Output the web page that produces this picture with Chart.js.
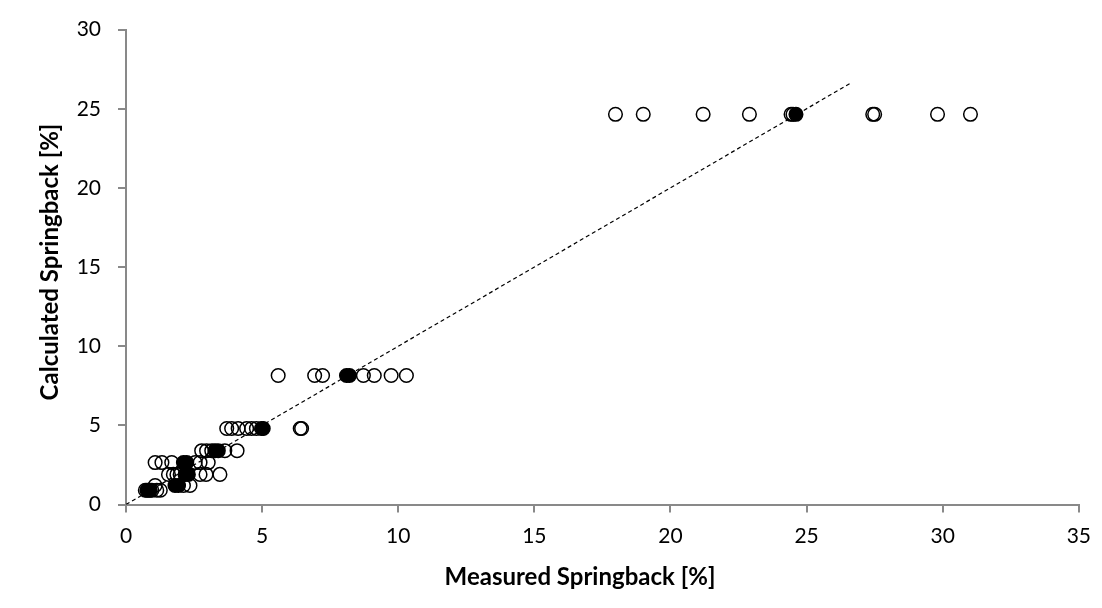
<!DOCTYPE html>
<html>
<head>
<meta charset="utf-8">
<script src="https://cdn.jsdelivr.net/npm/chart.js@4.4.1/dist/chart.umd.min.js"></script>
<style>
  html, body { margin: 0; padding: 0; background: #fff; }
  #wrap { width: 1102px; height: 608px; }
</style>
</head>
<body>
<div id="wrap"><canvas id="myChart" width="1102" height="608"></canvas></div>
<script>
// open circles (measured, calculated)
var openX = [17.98, 19.0, 21.2, 22.9, 24.43, 24.5, 27.43, 27.5, 29.81, 31.02,
  5.59, 6.93, 7.22, 8.72, 9.12, 9.74, 10.3,
  3.7, 3.88, 4.12, 4.43, 4.61, 4.79, 6.4, 6.45,
  2.78, 2.96, 3.15, 3.63, 4.08,
  1.07, 1.32, 1.68, 2.54, 2.72, 3.02,
  1.56, 1.74, 1.87, 1.99, 2.72, 2.94, 3.45,
  1.07, 2.11, 2.35,
  0.71, 0.83, 0.95, 1.13, 1.26];
var openY = [24.65, 24.65, 24.65, 24.65, 24.65, 24.65, 24.65, 24.65, 24.65, 24.65,
  8.15, 8.15, 8.15, 8.15, 8.15, 8.15, 8.15,
  4.8, 4.8, 4.8, 4.8, 4.8, 4.8, 4.8, 4.8,
  3.4, 3.4, 3.4, 3.4, 3.4,
  2.65, 2.65, 2.65, 2.65, 2.65, 2.65,
  1.9, 1.9, 1.9, 1.9, 1.9, 1.9, 1.9,
  1.2, 1.2, 1.2,
  0.9, 0.9, 0.9, 0.9, 0.9];

// filled circles
var filledX = [24.61, 8.1, 8.21, 4.98, 5.04, 3.27, 3.39, 2.11, 2.23, 2.17, 2.29, 1.8, 1.93, 0.77, 0.89];
var filledY = [24.65, 8.15, 8.15, 4.8, 4.8, 3.4, 3.4, 2.65, 2.65, 1.9, 1.9, 1.2, 1.2, 0.9, 0.9];

// dashed y = x line
var lineX = [0, 26.6];
var lineY = [0, 26.6];

var xTicks = [0, 5, 10, 15, 20, 25, 30, 35];
var yTicks = [0, 5, 10, 15, 20, 25, 30];

var xTitle = "Measured Springback [%]";
var yTitle = "Calculated Springback [%]";

function pts(xs, ys) {
  return xs.map(function (x, i) { return { x: x, y: ys[i] }; });
}

var axisColor = "#898989";
var fontFam = "Lato, 'Open Sans', sans-serif";

// axis titles drawn at the spots they sit in the original
var titlesPlugin = {
  id: "titles",
  afterDraw: function (chart) {
    var c = chart.ctx;
    c.save();
    c.fillStyle = "#000";
    c.font = "bold 24px " + fontFam;
    c.textAlign = "center";
    c.textBaseline = "middle";
    c.fillText(xTitle, 580, 577);
    c.translate(50, 262);
    c.rotate(-Math.PI / 2);
    c.fillText(yTitle, 0, 0);
    c.restore();
  }
};

const ctx = document.getElementById("myChart").getContext("2d");
const myChart = new Chart(ctx, {
  type: "scatter",
  data: {
    datasets: [
      {
        data: pts(openX, openY),
        pointStyle: "circle",
        pointRadius: 6.8,
        pointBorderWidth: 1.5,
        pointBorderColor: "#000",
        pointBackgroundColor: "rgba(0,0,0,0)",
        order: 2,
      },
      {
        data: pts(filledX, filledY),
        pointStyle: "circle",
        pointRadius: 6.8,
        pointBorderWidth: 1.5,
        pointBorderColor: "#000",
        pointBackgroundColor: "#000",
        order: 1,
      },
      {
        type: "line",
        data: pts(lineX, lineY),
        borderColor: "#000",
        borderWidth: 1.2,
        borderDash: [4, 3],
        pointRadius: 0,
        fill: false,
        order: 0,
      },
    ],
  },
  options: {
    responsive: false,
    animation: false,
    events: [],
    layout: {
      padding: { top: 22, right: 20, bottom: 0, left: 0 },
    },
    scales: {
      x: {
        type: "linear",
        min: 0,
        max: 35,
        afterFit: function (scale) { scale.height = 103.5; },
        afterBuildTicks: function (scale) {
          scale.ticks = xTicks.map(function (v) { return { value: v }; });
        },
        grid: {
          drawOnChartArea: false,
          drawTicks: true,
          tickLength: 8,
          color: axisColor,
          lineWidth: 2,
        },
        border: { color: axisColor, width: 2 },
        ticks: {
          color: "#000",
          padding: 11,
          maxRotation: 0,
          font: { family: fontFam, size: 21 },
        },
      },
      y: {
        type: "linear",
        min: 0,
        max: 30,
        afterFit: function (scale) { scale.width = 126; },
        afterBuildTicks: function (scale) {
          scale.ticks = yTicks.map(function (v) { return { value: v }; });
        },
        grid: {
          drawOnChartArea: false,
          drawTicks: true,
          tickLength: 8,
          color: axisColor,
          lineWidth: 2,
        },
        border: { color: axisColor, width: 2 },
        ticks: {
          color: "#000",
          padding: 17,
          font: { family: fontFam, size: 21 },
        },
      },
    },
    plugins: {
      legend: { display: false },
      tooltip: { enabled: false },
    },
  },
  plugins: [titlesPlugin],
});
</script>
</body>
</html>
